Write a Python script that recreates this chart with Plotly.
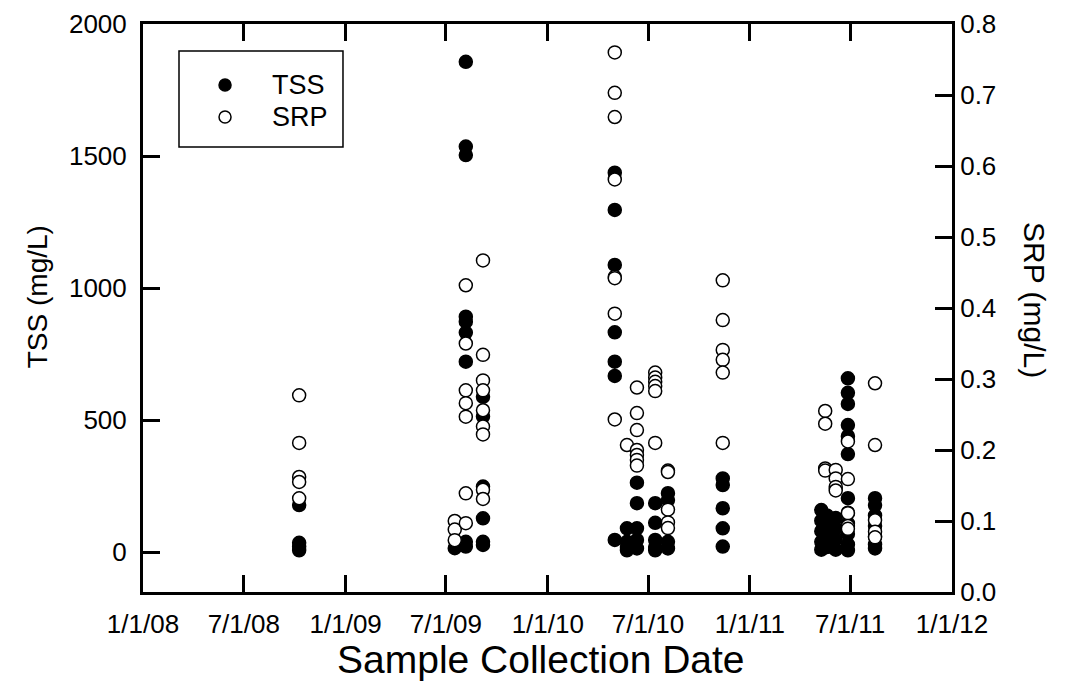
import plotly.graph_objects as go

# TSS (mg/L) samples, filled circles, left axis
tss_dates = (
    ["2008-10-09"] * 4
    + ["2009-07-17"]
    + ["2009-08-06"] * 9
    + ["2009-09-06"] * 6
    + ["2010-05-02"] * 7
    + ["2010-05-24"] * 4
    + ["2010-06-11"] * 5
    + ["2010-07-14"] * 5
    + ["2010-08-06"] * 4
    + ["2010-11-13"] * 5
    + ["2011-05-10"] * 5
    + ["2011-05-20"] * 4
    + ["2011-06-05"] * 4
    + ["2011-06-27"] * 12
    + ["2011-08-15"] * 7
)
tss_vals = [
    179, 36, 22, 8,
    16,
    1857, 1536, 1504, 892, 873, 832, 722, 22, 40,
    589, 514, 249, 129, 40, 28,
    1437, 1296, 1088, 833, 722, 668, 47,
    91, 40, 20, 8,
    264, 186, 91, 47, 15,
    186, 112, 47, 20, 8,
    224, 198, 40, 15,
    280, 255, 167, 91, 22,
    160, 120, 80, 40, 10,
    140, 100, 60, 20,
    130, 90, 50, 10,
    659, 604, 562, 482, 440, 372, 205, 150, 110, 70, 30, 8,
    205, 179, 140, 100, 60, 30, 15,
]

# SRP (mg/L) samples, open circles, right axis
srp_dates = (
    ["2008-10-09"] * 5
    + ["2009-07-17"] * 3
    + ["2009-08-06"] * 7
    + ["2009-09-06"] * 9
    + ["2010-05-02"] * 8
    + ["2010-05-24"]
    + ["2010-06-11"] * 7
    + ["2010-07-14"] * 6
    + ["2010-08-06"] * 5
    + ["2010-11-13"] * 6
    + ["2011-05-17"] * 4
    + ["2011-06-05"] * 4
    + ["2011-06-27"] * 5
    + ["2011-08-15"] * 5
)
srp_vals = [
    0.277, 0.21, 0.162, 0.155, 0.132,
    0.1, 0.088, 0.073,
    0.432, 0.35, 0.284, 0.266, 0.247, 0.139, 0.097,
    0.467, 0.334, 0.298, 0.284, 0.256, 0.233, 0.222, 0.144, 0.131,
    0.76, 0.703, 0.669, 0.581, 0.444, 0.442, 0.392, 0.243,
    0.207,
    0.288, 0.252, 0.228, 0.2, 0.193, 0.186, 0.178,
    0.309, 0.302, 0.296, 0.29, 0.283, 0.21,
    0.171, 0.169, 0.116, 0.098, 0.09,
    0.439, 0.383, 0.341, 0.327, 0.309, 0.21,
    0.255, 0.237, 0.174, 0.171,
    0.172, 0.16, 0.148, 0.143,
    0.212, 0.159, 0.111, 0.093, 0.089,
    0.294, 0.207, 0.101, 0.085, 0.077,
]

x_tickvals = ["2008-01-01", "2008-07-01", "2009-01-01", "2009-07-01", "2010-01-01",
              "2010-07-01", "2011-01-01", "2011-07-01", "2012-01-01"]
x_ticktext = ["1/1/08", "7/1/08", "1/1/09", "7/1/09", "1/1/10",
              "7/1/10", "1/1/11", "7/1/11", "1/1/12"]
tss_ticks = [0, 500, 1000, 1500, 2000]
srp_ticks = [0.0, 0.1, 0.2, 0.3, 0.4, 0.5, 0.6, 0.7, 0.8]

FONT = "Liberation Sans, Arial, sans-serif"
TICK_SIZE = 26

fig = go.Figure()
fig.add_trace(go.Scatter(
    x=tss_dates, y=tss_vals, mode="markers", name="TSS",
    marker=dict(symbol="circle", size=13, color="black",
                line=dict(color="black", width=1.5)),
))
fig.add_trace(go.Scatter(
    x=srp_dates, y=srp_vals, mode="markers", name="SRP", yaxis="y2",
    marker=dict(symbol="circle", size=13, color="white",
                line=dict(color="black", width=1.5)),
))

axis_common = dict(
    showline=True, linecolor="black", linewidth=3,
    ticks="inside", ticklen=17, tickwidth=2.5, tickcolor="black",
    showgrid=False, zeroline=False, automargin=False,
    tickfont=dict(family=FONT, size=TICK_SIZE, color="black"),
)

# legend drawn by hand inside a framed box (paper coords)
leg_x = 0.1014
leg_text_x = 0.157
leg_rows = [0.8926, 0.8363]
legend_shapes = [dict(
    type="rect", xref="paper", yref="paper",
    x0=0.0445, x1=0.2472, y0=0.7835, y1=0.9525,
    line=dict(color="black", width=1.5), fillcolor="white", layer="below",
)]
legend_notes = []
for row, name, fill in zip(leg_rows, ["TSS", "SRP"], ["black", "white"]):
    legend_shapes.append(dict(
        type="circle", xref="paper", yref="paper",
        xsizemode="pixel", ysizemode="pixel", xanchor=leg_x, yanchor=row,
        x0=-6, x1=6, y0=-6, y1=6,
        line=dict(color="black", width=1.5), fillcolor=fill,
    ))
    legend_notes.append(dict(
        text=name, xref="paper", yref="paper", x=leg_text_x, y=row,
        showarrow=False, xanchor="left", yanchor="middle",
        font=dict(family=FONT, size=27, color="black"),
    ))

# page body has an 8px margin, so the figure is offset by (8, 8)
fig.update_layout(
    width=1070, height=694,
    margin=dict(l=135, r=126, t=16, b=110),
    paper_bgcolor="white", plot_bgcolor="white",
    font=dict(family=FONT, color="black"),
    showlegend=False,
    xaxis=dict(
        **axis_common, type="date", mirror="ticks",
        range=["2008-01-01", "2012-01-01"],
        tickmode="array", tickvals=x_tickvals, ticktext=x_ticktext,
        ticklabelstandoff=7,
    ),
    yaxis=dict(
        **axis_common, range=[-150, 2000],
        tickmode="array", tickvals=tss_ticks, ticklabelstandoff=8,
    ),
    yaxis2=dict(
        **axis_common, overlaying="y", side="right", range=[0, 0.8],
        tickmode="array", tickvals=srp_ticks, tickformat=".1f",
    ),
    shapes=legend_shapes,
    annotations=legend_notes + [
        dict(text="TSS (mg/L)", xref="paper", yref="paper", x=-0.131, y=0.519,
             textangle=-90, showarrow=False, xanchor="center", yanchor="middle",
             font=dict(family=FONT, size=28, color="black")),
        dict(text="SRP (mg/L)", xref="paper", yref="paper", x=1.1026, y=0.514,
             textangle=90, showarrow=False, xanchor="center", yanchor="middle",
             font=dict(family=FONT, size=30, color="black")),
        dict(text="Sample Collection Date", xref="paper", yref="paper", x=0.492, y=-0.118,
             showarrow=False, xanchor="center", yanchor="middle",
             font=dict(family=FONT, size=39, color="black")),
    ],
)

fig.write_html("out.html")
